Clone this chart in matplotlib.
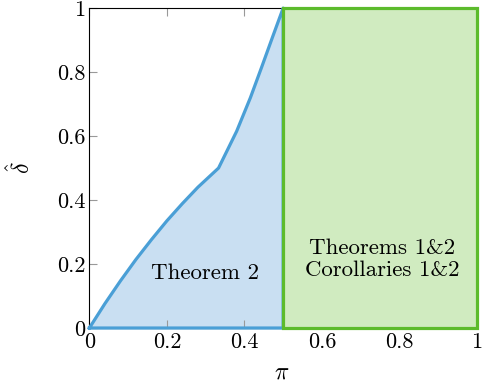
import matplotlib
matplotlib.use("Agg")
import matplotlib.pyplot as plt
from matplotlib.patches import Polygon, Rectangle

plt.rcParams['font.family'] = ['cmr10']
plt.rcParams['mathtext.fontset'] = 'cm'
plt.rcParams['axes.formatter.use_mathtext'] = True

# boundary curve of Theorem 2 region
curve_x = [0.0, 0.04, 0.08, 0.12, 0.16, 0.20, 0.24, 0.28, 0.3333,
           0.38, 0.4155, 0.4444, 0.4728, 0.5]
curve_y = [0.0, 0.076, 0.147, 0.214, 0.276, 0.335, 0.389, 0.440, 0.50,
           0.615, 0.72, 0.815, 0.91, 1.0]
green_x = [0.5, 1.0]
green_y = [0.0, 1.0]
xticks = [0, 0.2, 0.4, 0.6, 0.8, 1]
yticks = [0, 0.2, 0.4, 0.6, 0.8, 1]
xtick_labels = ['0', '0.2', '0.4', '0.6', '0.8', '1']
ytick_labels = ['0', '0.2', '0.4', '0.6', '0.8', '1']

blue = '#4a9fd6'
blue_fill = '#c9dff2'
green = '#5cbb2c'
green_fill = '#d0ebc0'

W, H = 483, 385
fig = plt.figure(figsize=(W / 100, H / 100), dpi=100)
ax = fig.add_axes([0.185, 0.148, 0.8025, 0.831])

pts = list(zip(curve_x, curve_y)) + [(curve_x[-1], 0.0)]
ax.add_patch(Polygon(pts, closed=True, facecolor=blue_fill, edgecolor='none', zorder=1))
ax.plot(curve_x + [curve_x[-1], 0.0], curve_y + [0.0, 0.0], color=blue, lw=2.3,
        solid_joinstyle='round', clip_on=False, zorder=3)
ax.add_patch(Rectangle((green_x[0], green_y[0]), green_x[1] - green_x[0], green_y[1] - green_y[0],
                       facecolor=green_fill, edgecolor=green, lw=2.3, clip_on=False, zorder=4))

ax.text(0.299, 0.172, 'Theorem 2', ha='center', va='center', fontsize=16.5, zorder=5)
ax.text(0.755, 0.215, 'Theorems 1&2\nCorollaries 1&2', ha='center', va='center',
        fontsize=16.5, linespacing=1.2, zorder=5)

ax.set_xlim(0, 1)
ax.set_ylim(0, 1)
ax.set_xticks(xticks)
ax.set_xticklabels(xtick_labels)
ax.set_yticks(yticks)
ax.set_yticklabels(ytick_labels)
ax.tick_params(direction='in', length=6, width=0.8, color='#999999', top=True, right=True,
               labelsize=16, pad=3)
for s in ax.spines.values():
    s.set_linewidth(0.8)
    s.set_zorder(2)

ax.set_xlabel(r'$\pi$', fontsize=17)
ax.xaxis.label.set(ha='center', va='center', rotation_mode='default')
ax.xaxis.set_label_coords(282 / W, 1 - 372 / H, transform=fig.transFigure)
ax.set_ylabel(r'$\hat{\delta}$', fontsize=17)
ax.yaxis.label.set(ha='center', va='center', rotation_mode='default')
ax.yaxis.set_label_coords(21 / W, 1 - 168 / H, transform=fig.transFigure)

fig.savefig('out.png', dpi=100)
